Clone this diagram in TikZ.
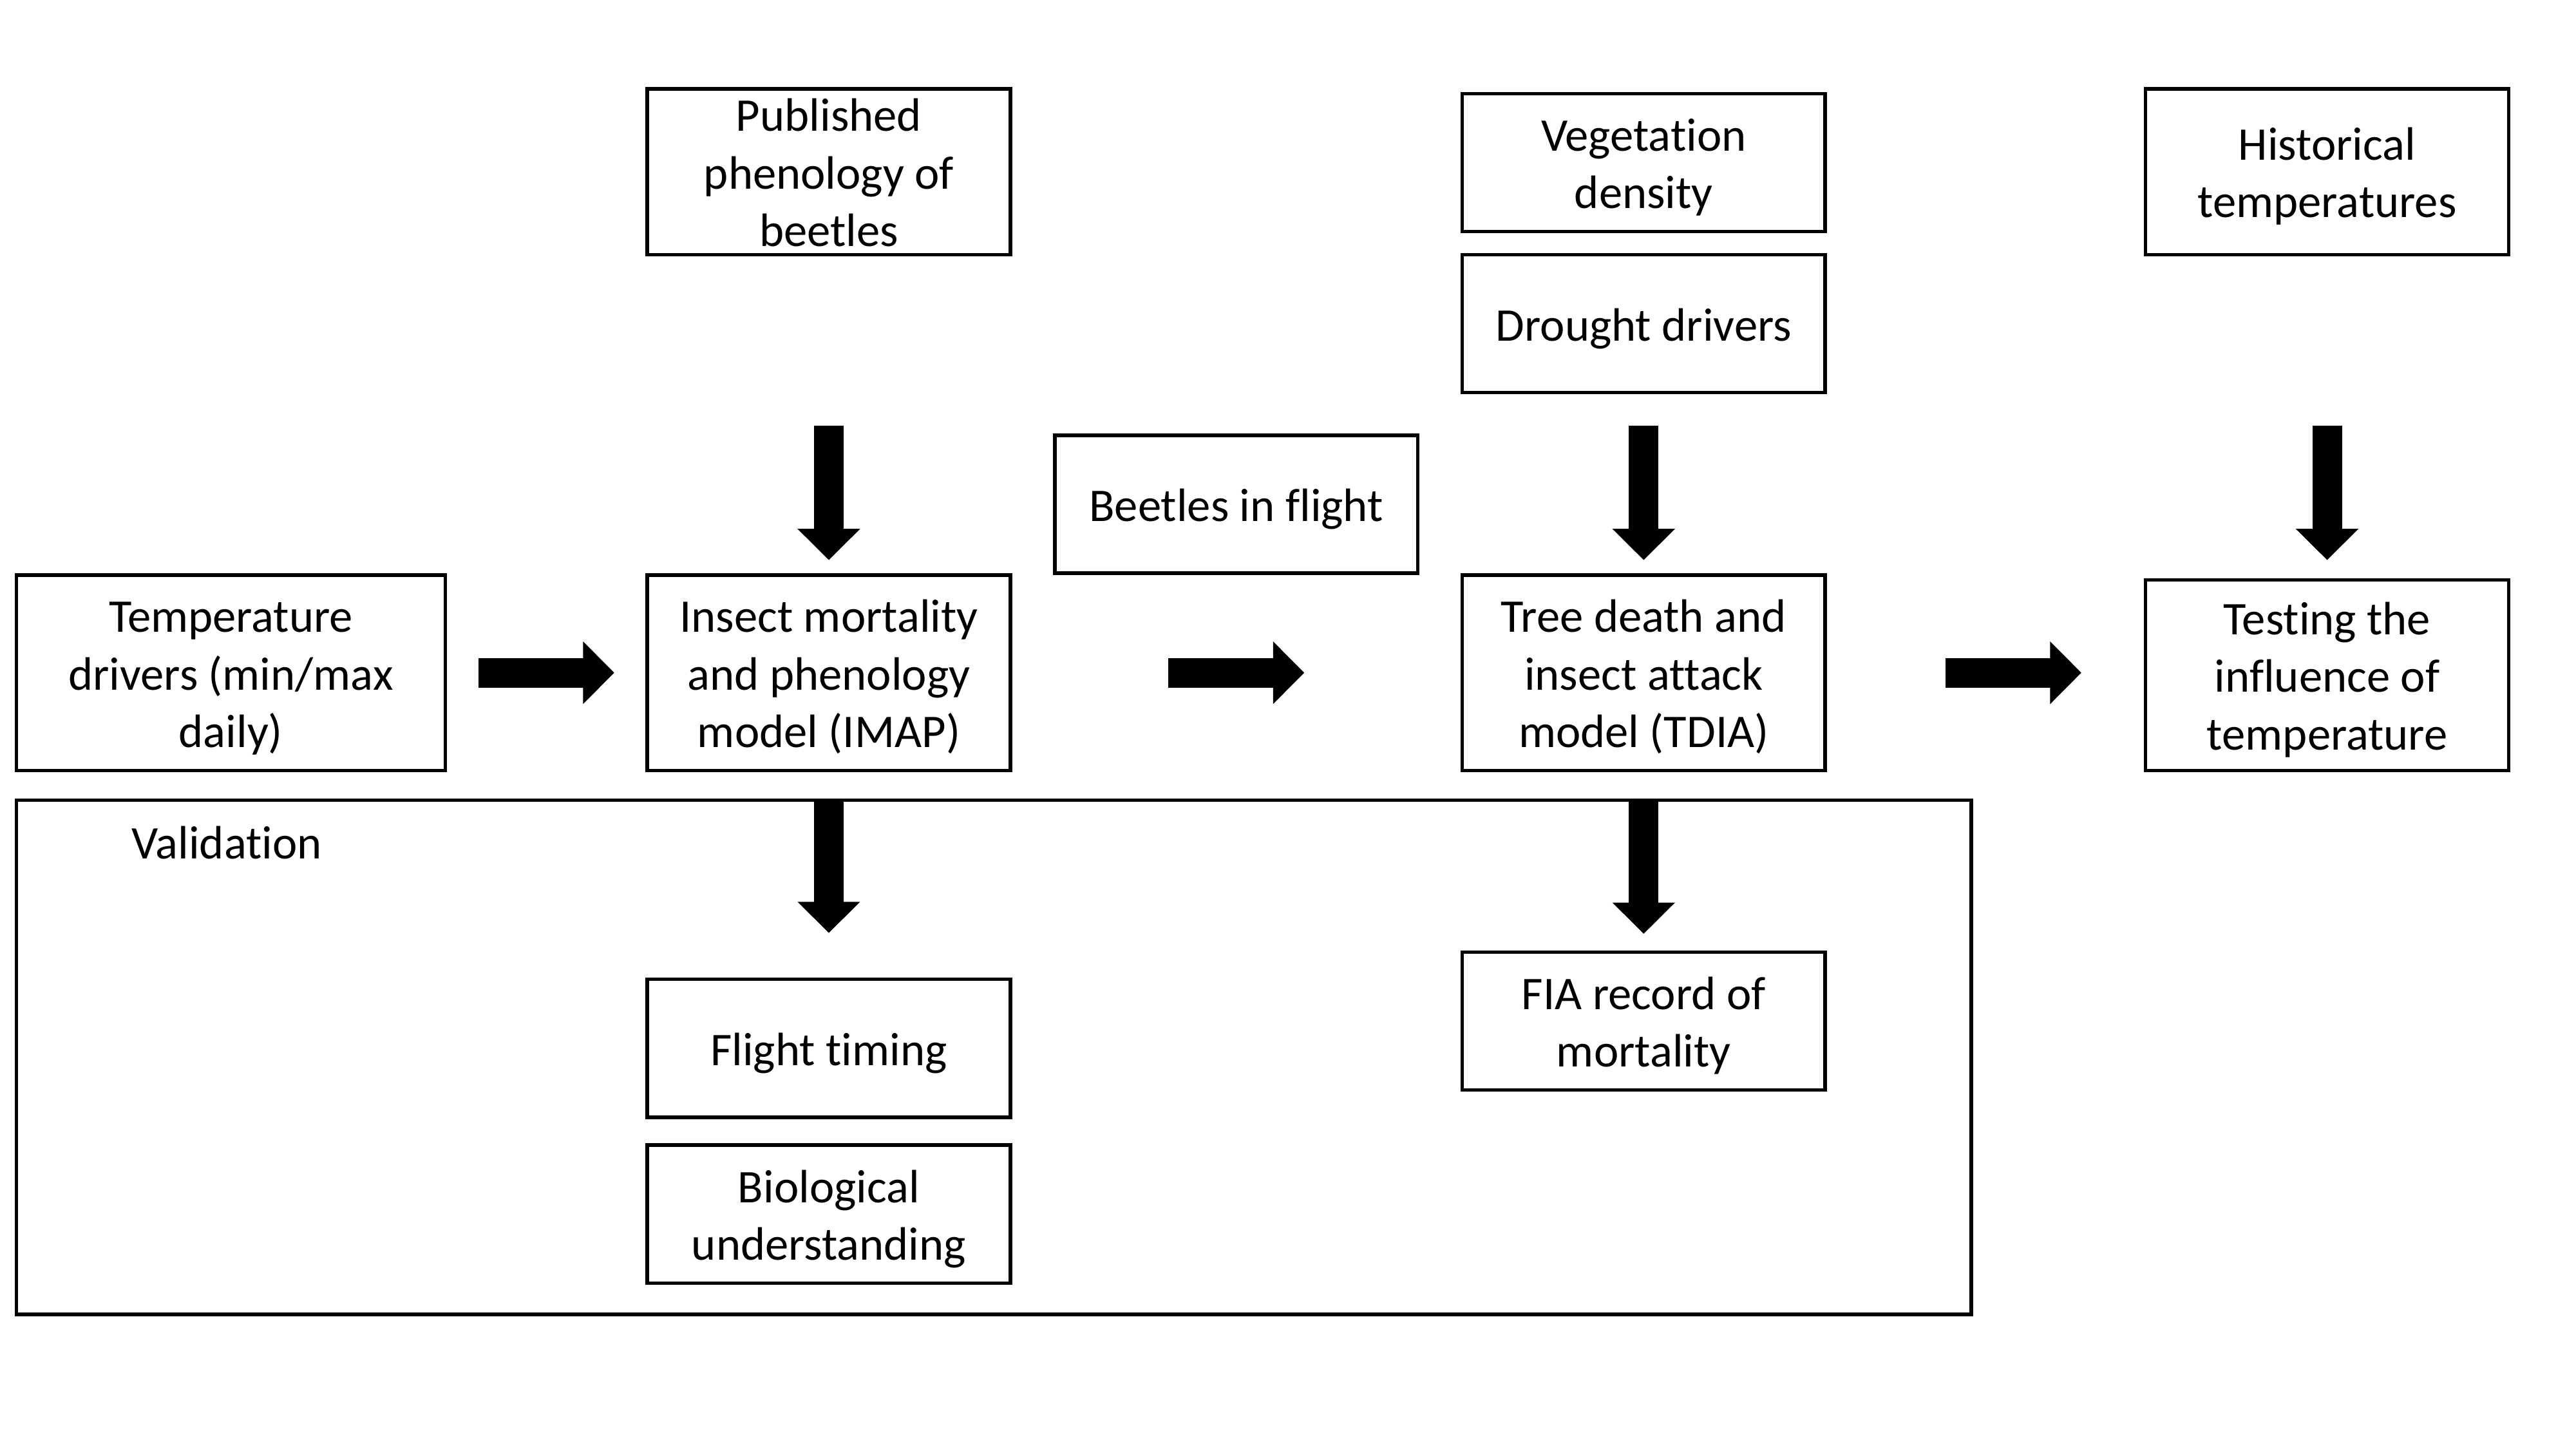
\documentclass[tikz,border=0pt]{standalone}
\usepackage{fontspec}
\setmainfont{Carlito}[Ligatures={NoCommon,NoRequired,NoContextual,NoRare},Contextuals=NoAlternate]
\usetikzlibrary{arrows.meta}

% lines of a box label: no height of their own, a little lower than centred
\newcommand{\boxlines}[1]{\raisebox{-3pt}[\dimexpr(\height-\depth)/2+7pt\relax][\dimexpr(\depth-\height)/2-7pt\relax]{\begin{tabular}{@{}c@{}}#1\end{tabular}}}

\tikzset{
  box/.style={draw, line width=2.2pt, inner sep=0pt, align=center,
    minimum width=221pt, minimum height=84pt,
    font=\fontsize{28.5}{35}\selectfont},
  blockarrow/.style={line width=18pt, -{Triangle[width=37pt,length=19pt]}},
}

\begin{document}
\begin{tikzpicture}[x=1pt, y=-1pt, line join=miter]

  %% ════ inputs (top row) ════
  \node[box, minimum height=101pt] (pub)  at (504.5,104.5) {\boxlines{Published\\phenology of\\beetles}};
  \node[box]                       (veg)  at (1000.5,99)   {\boxlines{Vegetation\\density}};
  \node[box]                       (drought) at (1000.5,197) {\boxlines{Drought drivers}};
  \node[box, minimum height=101pt] (hist) at (1416.5,104.5) {\boxlines{Historical\\temperatures}};
  \node[box]                       (beetles) at (752.5,307) {\boxlines{Beetles in flight}};

  %% ════ model chain ════
  \node[box, minimum width=261pt, minimum height=119pt] (temp) at (140.5,409.5) {\boxlines{Temperature\\drivers (min/max\\daily)}};
  \node[box, minimum height=119pt] (imap) at (504.5,409.5)  {\boxlines{Insect mortality\\and phenology\\model (IMAP)}};
  \node[box, minimum height=119pt] (tdia) at (1000.5,409.5) {\boxlines{Tree death and\\insect attack\\model (TDIA)}};
  \node[box, minimum height=116pt] (test) at (1416.5,411)   {\boxlines{Testing the\\influence of\\temperature}};

  %% ════ validation ════
  \draw[line width=2.2pt] (10,487) rectangle (1200,800);
  \node[anchor=west, inner sep=0pt, font=\fontsize{28.5}{35}\selectfont] (valtitle) at (80,513) {Validation};
  \node[box] (flight) at (504.5,638)  {\boxlines{Flight timing}};
  \node[box] (bio)    at (504.5,739)  {\boxlines{Biological\\understanding}};
  \node[box] (fia)    at (1000.5,621.5) {\boxlines{FIA record of\\mortality}};

  %% ════ block arrows ════
  \draw[blockarrow, shorten <=103pt, shorten >=8pt]  (pub) -- (imap);
  \draw[blockarrow, shorten <=19pt,  shorten >=8pt]  (drought) -- (tdia);
  \draw[blockarrow, shorten <=103pt, shorten >=11pt] (hist) -- (test);
  \draw[blockarrow, shorten <=19pt,  shorten >=19pt] (temp) -- (imap);
  \draw[blockarrow, shorten <=95pt,  shorten >=95pt] (imap) -- (tdia);
  \draw[blockarrow, shorten <=72pt,  shorten >=38pt] (tdia.east) -- (tdia.east -| test.west);
  \draw[blockarrow, shorten <=17pt,  shorten >=27pt] (imap) -- (flight);
  \draw[blockarrow, shorten <=17pt,  shorten >=10pt] (tdia) -- (fia);

  % fix the canvas to the reference frame
  \pgfresetboundingbox
  \path[use as bounding box] (0,0) rectangle (1568,882);
\end{tikzpicture}
\end{document}
